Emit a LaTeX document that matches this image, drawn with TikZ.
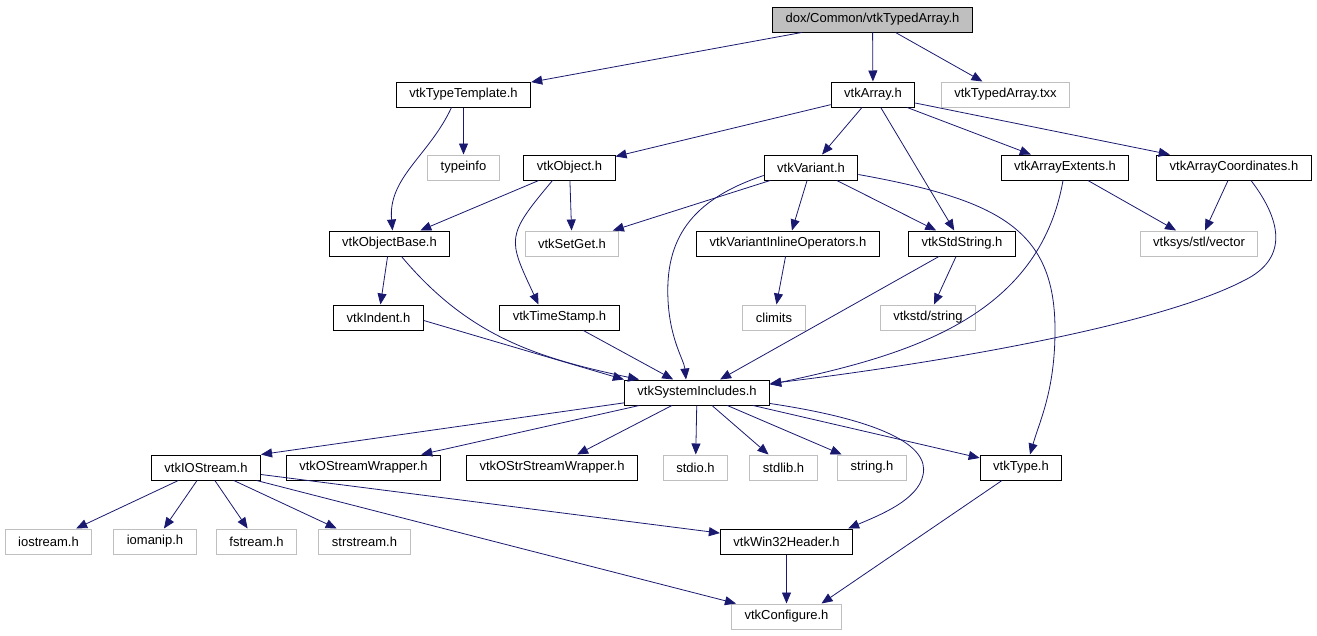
\documentclass[tikz,border=0pt]{standalone}
\usepackage{fontspec}
\setmainfont{Liberation Sans}
\usetikzlibrary{arrows.meta}
\definecolor{edgeblue}{HTML}{191970}
\definecolor{sysgray}{HTML}{BFBFBF}
\tikzset{
  file/.style={rectangle,draw=black,line width=1pt,minimum height=25pt,inner xsep=13pt,inner ysep=0pt,font=\fontsize{13}{15}\selectfont},
  sysfile/.style={file,draw=sysgray},
  rootfile/.style={file,fill=sysgray},
  dep/.style={draw=edgeblue,line width=0.8pt,-{Triangle[length=11pt,width=9pt]},fill=none}
}
\begin{document}
\begin{tikzpicture}[x=1pt,y=1pt]
        \useasboundingbox (0,0) rectangle (1317,-635);
        \node at (872.5,-19.5) [rootfile] (root) {dox/Common/vtkTypedArray.h};
        \node at (463.5,-94.5) [file] (typetemplate) {vtkTypeTemplate.h};
        \node at (873,-94.5) [file] (array) {vtkArray.h};
        \node at (1005.5,-94.5) [sysfile] (txx) {vtkTypedArray.txx};
        \node at (463.5,-167.5) [sysfile] (typeinfo) {typeinfo};
        \node at (569.5,-167.5) [file] (object) {vtkObject.h};
        \node at (811,-167.5) [file] (variant) {vtkVariant.h};
        \node at (1065,-167.5) [file] (extents) {vtkArrayExtents.h};
        \node at (1234,-167.5) [file] (coords) {vtkArrayCoordinates.h};
        \node at (389.5,-243.5) [file] (objectbase) {vtkObjectBase.h};
        \node at (572,-243.5) [sysfile] (setget) {vtkSetGet.h};
        \node at (788,-243.5) [file] (inlineops) {vtkVariantInlineOperators.h};
        \node at (962,-243.5) [file] (stdstring) {vtkStdString.h};
        \node at (1199,-243.5) [sysfile] (stlvector) {vtksys/stl/vector};
        \node at (378.5,-317.5) [file] (indent) {vtkIndent.h};
        \node at (559.5,-317.5) [file] (timestamp) {vtkTimeStamp.h};
        \node at (774,-317.5) [sysfile] (climits) {climits};
        \node at (928,-317.5) [sysfile] (vtkstdstr) {vtkstd/string};
        \node at (697,-392.5) [file] (sysincl) {vtkSystemIncludes.h};
        \node at (206,-467.5) [file] (iostr) {vtkIOStream.h};
        \node at (363.5,-467.5) [file] (ostrwrap) {vtkOStreamWrapper.h};
        \node at (552,-467.5) [file] (ostrstrwrap) {vtkOStrStreamWrapper.h};
        \node at (695.5,-467.5) [sysfile] (stdio) {stdio.h};
        \node at (783.5,-467.5) [sysfile] (stdlib) {stdlib.h};
        \node at (872,-467.5) [sysfile] (stringh) {string.h};
        \node at (1021,-467.5) [file] (type) {vtkType.h};
        \node at (48.5,-541.5) [sysfile] (iostream) {iostream.h};
        \node at (155,-541.5) [sysfile] (iomanip) {iomanip.h};
        \node at (256.5,-541.5) [sysfile] (fstream) {fstream.h};
        \node at (364.5,-541.5) [sysfile] (strstream) {strstream.h};
        \node at (786.5,-541.5) [file] (win32) {vtkWin32Header.h};
        \node at (786.5,-616.5) [sysfile] (configure) {vtkConfigure.h};
        \draw[dep] (root) -- (typetemplate);
        \draw[dep] (root) -- (array);
        \draw[dep] (root) -- (txx);
        \draw[dep] (typetemplate) -- (typeinfo);
        \draw[dep] ([xshift=-12pt]typetemplate.south) to[out=-115,in=95] ([xshift=3pt]objectbase.north);
        \draw[dep] (array) -- (object);
        \draw[dep] (array) -- (variant);
        \draw[dep] (array) -- (stdstring);
        \draw[dep] (array) -- (extents);
        \draw[dep] (array) -- (coords);
        \draw[dep] (object) -- (objectbase);
        \draw[dep] (object) -- (setget);
        \draw[dep] ([xshift=-17pt]object.south) to[out=-130,in=115,looseness=1.5] ([xshift=-21pt]timestamp.north);
        \draw[dep] (variant) -- (setget);
        \draw[dep] ([yshift=-8pt]variant.west) .. controls (690,-200) and (665,-240) .. (668,-300) .. controls (670,-340) and (684,-360) .. ([xshift=-11pt]sysincl.north);
        \draw[dep] (variant) -- (inlineops);
        \draw[dep] (variant) -- (stdstring);
        \draw[dep] ([yshift=-7pt]variant.east) .. controls (1000,-200) and (1055,-230) .. (1055,-330) .. controls (1055,-390) and (1040,-420) .. ([xshift=9pt]type.north);
        \draw[dep] (extents) -- (stlvector);
        \draw[dep] ([xshift=-2pt]extents.south) to[out=-100,in=12] ([yshift=8pt]sysincl.east);
        \draw[dep] (coords) -- (stlvector);
        \draw[dep] ([xshift=17pt]coords.south) .. controls (1285,-225) and (1285,-260) .. (1245,-280) .. controls (1150,-330) and (900,-368) .. ([yshift=9pt]sysincl.east);
        \draw[dep] (objectbase) -- (indent);
        \draw[dep] ([xshift=12pt]objectbase.south) to[out=-50,in=168] ([xshift=-58pt]sysincl.north);
        \draw[dep] (inlineops) -- (climits);
        \draw[dep] (stdstring) -- (sysincl);
        \draw[dep] (stdstring) -- (vtkstdstr);
        \draw[dep] ([yshift=-3pt]indent.east) -- (sysincl.north west);
        \draw[dep] (timestamp) -- (sysincl);
        \draw[dep] (sysincl) -- (iostr.north east);
        \draw[dep] (sysincl) -- (ostrwrap);
        \draw[dep] (sysincl) -- (ostrstrwrap);
        \draw[dep] (sysincl) -- (stdio);
        \draw[dep] (sysincl) -- (stdlib);
        \draw[dep] (sysincl) -- (stringh);
        \draw[dep] (sysincl) -- (type);
        \draw[dep] ([yshift=2pt]sysincl.south east) .. controls (880,-420) and (930,-445) .. (923,-475) .. controls (918,-500) and (880,-515) .. ([xshift=-5pt]win32.north east);
        \draw[dep] (iostr) -- (iostream);
        \draw[dep] (iostr) -- (iomanip);
        \draw[dep] (iostr) -- (fstream);
        \draw[dep] (iostr) -- (strstream);
        \draw[dep] (iostr) -- (win32);
        \draw[dep] (iostr) -- (configure);
        \draw[dep] (win32) -- (configure);
        \draw[dep] (type) -- ([xshift=35pt]configure.north);
\end{tikzpicture}
\end{document}
